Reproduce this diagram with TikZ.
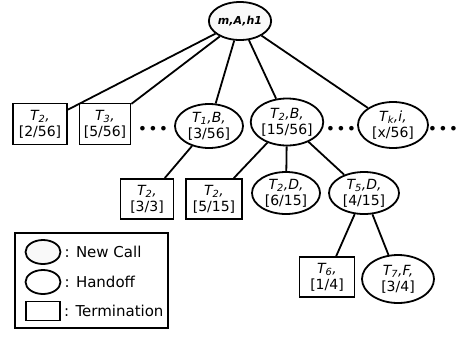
\documentclass[tikz,border=0pt]{standalone}
\usepackage{fontspec}
\setmainfont{DejaVu Sans}
\usepackage{tikz}
\usetikzlibrary{shapes.geometric, positioning}

\newcommand{\tv}[2]{\textit{T\textsubscript{#1},#2}}

\begin{document}
\begin{tikzpicture}[
    x=1pt, y=-1pt,
    every node/.style={font=\fontsize{14}{16}\selectfont, align=center, inner sep=0pt},
    handoff/.style={ellipse, draw, line width=1.8pt, fill=white, minimum width=68pt, minimum height=44pt},
    newcall/.style={ellipse, draw, line width=1.8pt, fill=gray!5, minimum width=60pt, minimum height=38pt},
    term/.style={rectangle, draw, line width=1.8pt, fill=white, minimum width=54pt, minimum height=41pt},
    dots/.style={font=\fontsize{13}{13}\selectfont\bfseries},
    legtxt/.style={font=\fontsize{15}{16}\selectfont},
    link/.style={line width=1.8pt}
]
    \useasboundingbox (0,0) rectangle (460,341);

    % tree
    \node[newcall] (root) at (240,21) {\textit{\textbf{\fontsize{11}{12}\selectfont m,A,h1}}};
    \node[term] (t2a) at (40,124) {\tv{2}{}\\{[2/56]}};
    \node[term, minimum width=51pt] (t3) at (105,124) {\tv{3}{}\\{[5/56]}};
    \node[dots] (d1) at (153,130) {\textbullet\,\textbullet\,\textbullet};
    \node[handoff] (t1b) at (209,126) {\tv{1}{B,}\\{[3/56]}};
    \node[handoff, minimum height=47pt] (t2b) at (287,122) {\tv{2}{B,}\\{[15/56]}};
    \node[dots] (d2) at (341,130) {\textbullet\,\textbullet\,\textbullet};
    \node[handoff, minimum width=70pt, minimum height=46pt] (tki) at (393,125) {\textit{T\textsubscript{k},i,}\\{[x/56]}};
    \node[dots] (d3) at (443,130) {\textbullet\,\textbullet\,\textbullet};

    \node[term, minimum width=53pt, minimum height=40pt] (t2c) at (147,199) {\tv{2}{}\\{[3/3]}};
    \node[term, minimum width=56pt, minimum height=40pt] (t2d) at (214,199) {\tv{2}{}\\{[5/15]}};
    \node[handoff, minimum height=42pt] (t2dd) at (286,193) {\tv{2}{D,}\\{[6/15]}};
    \node[handoff, minimum width=70pt, minimum height=42pt] (t5d) at (364,193) {\tv{5}{D,}\\{[4/15]}};

    \node[term, minimum width=55pt, minimum height=40pt] (t6) at (327,277) {\tv{6}{}\\{[1/4]}};
    \node[handoff, minimum width=72pt, minimum height=48pt] (t7f) at (398,279) {\tv{7}{F,}\\{[3/4]}};

    \draw[link] (root) -- (t2a);
    \draw[link] (root) -- (t3);
    \draw[link] (root) -- (t1b);
    \draw[link] (root) -- (t2b);
    \draw[link] (root) -- (tki);
    \draw[link] (t1b) -- (t2c);
    \draw[link] (t2b) -- (t2d);
    \draw[link] (t2b) -- (t2dd);
    \draw[link] (t2b) -- (t5d);
    \draw[link] (t5d) -- (t6);
    \draw[link] (t5d) -- (t7f);

    % legend
    \node[rectangle, draw, line width=1.5pt, minimum width=153pt, minimum height=95pt] (legend) at (91.5,280.5) {};
    \node[newcall, minimum width=35pt, minimum height=24pt] (lnew) at (43,252) {};
    \node[handoff, minimum width=35pt, minimum height=24pt] (lhand) at (43,282) {};
    \node[term, minimum width=34pt, minimum height=19pt] (lterm) at (43,311) {};
    \node[legtxt, anchor=west, right=3pt of lnew] (lnewtxt) {: New Call};
    \node[legtxt, anchor=west, right=3pt of lhand] (lhandtxt) {: Handoff};
    \node[legtxt, anchor=west, right=3pt of lterm] (ltermtxt) {: Termination};
\end{tikzpicture}
\end{document}
